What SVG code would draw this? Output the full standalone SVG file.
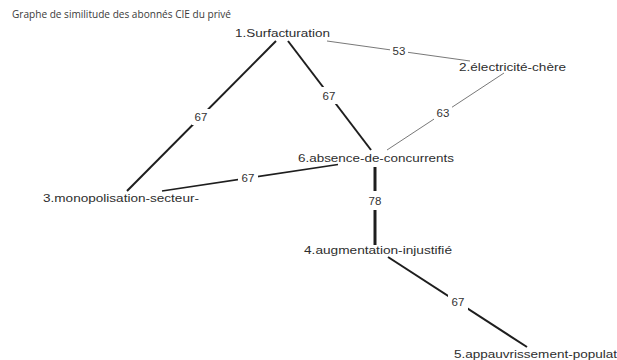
<svg xmlns="http://www.w3.org/2000/svg" width="617" height="360" viewBox="0 0 617 360">
  <style>
    .title { font-family: "Open Sans", "Liberation Sans", sans-serif; font-size: 11px; fill: #3a3a3a; }
    .node text { font-family: "Liberation Sans", Arial, sans-serif; font-size: 11px; fill: #2e2e2e; }
    .edge { stroke: #1e1e1e; fill: none; stroke-linecap: butt; }
    .weak { stroke: #555; stroke-width: 0.8; }
    .lbl-bg { fill: #fff; }
    .lbl { font-family: "Liberation Sans", Arial, sans-serif; font-size: 11.5px; fill: #333; text-anchor: middle; }
  </style>
  <rect width="617" height="360" fill="#fff"/>
  <text class="title" x="12" y="18" textLength="219" lengthAdjust="spacingAndGlyphs">Graphe de similitude des abonnés CIE du privé</text>

  <g id="connectors">
    <!-- 1 - 2 -->
    <line class="edge weak" x1="327" y1="41" x2="470" y2="61"/>
    <!-- 1 - 3 -->
    <line class="edge" stroke-width="2" x1="276" y1="41" x2="127" y2="191"/>
    <!-- 1 - 6 -->
    <line class="edge" stroke-width="2" x1="288" y1="41" x2="371" y2="150"/>
    <!-- 2 - 6 -->
    <line class="edge weak" x1="504" y1="73" x2="387" y2="150"/>
    <!-- 6 - 3 -->
    <line class="edge" stroke-width="1.6" x1="338" y1="164.5" x2="162" y2="191"/>
    <!-- 6 - 4 -->
    <line class="edge" stroke-width="3" x1="375" y1="167" x2="375" y2="245"/>
    <!-- 4 - 5 -->
    <line class="edge" stroke-width="2" x1="388" y1="257" x2="527" y2="347"/>

    <g id="edge-labels">
      <rect class="lbl-bg" x="390" y="44" width="18" height="13"/>
      <text class="lbl" x="399" y="55">53</text>
      <rect class="lbl-bg" x="192" y="109" width="18" height="16"/>
      <text class="lbl" x="201" y="121">67</text>
      <rect class="lbl-bg" x="320" y="87" width="18" height="17"/>
      <text class="lbl" x="329" y="100">67</text>
      <rect class="lbl-bg" x="434" y="105" width="18" height="16"/>
      <text class="lbl" x="443" y="117">63</text>
      <rect class="lbl-bg" x="238" y="171" width="20" height="13"/>
      <text class="lbl" x="248" y="182">67</text>
      <rect class="lbl-bg" x="365" y="191" width="20" height="19"/>
      <text class="lbl" x="375" y="205">78</text>
      <rect class="lbl-bg" x="448" y="293" width="20" height="17"/>
      <text class="lbl" x="458" y="306">67</text>
    </g>
  </g>

  <g id="n1" class="node"><text x="235" y="37" textLength="95" lengthAdjust="spacingAndGlyphs">1.Surfacturation</text></g>
  <g id="n2" class="node"><text x="459" y="71" textLength="107" lengthAdjust="spacingAndGlyphs">2.électricité-chère</text></g>
  <g id="n3" class="node"><text x="43" y="202" textLength="156" lengthAdjust="spacingAndGlyphs">3.monopolisation-secteur-</text></g>
  <g id="n4" class="node"><text x="304" y="254" textLength="148" lengthAdjust="spacingAndGlyphs">4.augmentation-injustifié</text></g>
  <g id="n5" class="node"><text x="454" y="358" textLength="163" lengthAdjust="spacingAndGlyphs">5.appauvrissement-populat</text></g>
  <g id="n6" class="node"><text x="298" y="162" textLength="156" lengthAdjust="spacingAndGlyphs">6.absence-de-concurrents</text></g>
</svg>
